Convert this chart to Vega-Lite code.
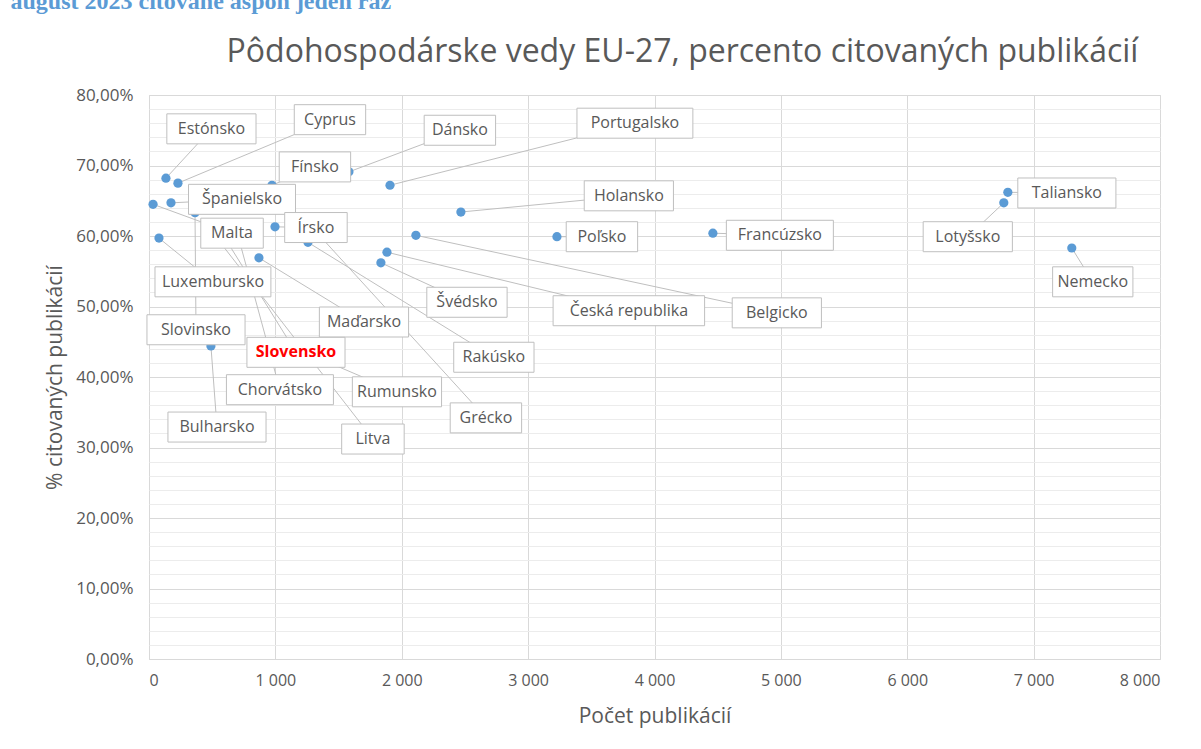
{
  "$schema": "https://vega.github.io/schema/vega-lite/v6.json",
  "width": 1011,
  "height": 564,
  "autosize": {"type": "none"},
  "padding": {"left": 149, "top": 95, "right": 41, "bottom": 90},
  "background": "white",
  "config": {
    "locale": {"number": {"decimal": ",", "thousands": " ", "grouping": [3], "currency": ["", " €"]}},
    "view": {"stroke": "#d9d9d9"}
  },
  "data": {
    "values": [
      {"country": "Estónsko", "pubs": 134, "pct": 0.682, "lx": 494, "ly": 0.752},
      {"country": "Cyprus", "pubs": 229, "pct": 0.675, "lx": 1432, "ly": 0.765},
      {"country": "Malta", "pubs": 32, "pct": 0.645, "lx": 657, "ly": 0.604},
      {"country": "Španielsko", "pubs": 174, "pct": 0.647, "lx": 736, "ly": 0.652},
      {"country": "Slovinsko", "pubs": 364, "pct": 0.633, "lx": 372, "ly": 0.467},
      {"country": "Luxembursko", "pubs": 79, "pct": 0.597, "lx": 506, "ly": 0.535},
      {"country": "Fínsko", "pubs": 973, "pct": 0.672, "lx": 1313, "ly": 0.698},
      {"country": "Dánsko", "pubs": 1582, "pct": 0.691, "lx": 2460, "ly": 0.750},
      {"country": "Portugalsko", "pubs": 1907, "pct": 0.672, "lx": 3845, "ly": 0.760},
      {"country": "Holansko", "pubs": 2468, "pct": 0.634, "lx": 3797, "ly": 0.657},
      {"country": "Belgicko", "pubs": 2112, "pct": 0.601, "lx": 4968, "ly": 0.491},
      {"country": "Česká republika", "pubs": 1883, "pct": 0.577, "lx": 3797, "ly": 0.494},
      {"country": "Švédsko", "pubs": 1835, "pct": 0.562, "lx": 2516, "ly": 0.506},
      {"country": "Poľsko", "pubs": 3228, "pct": 0.599, "lx": 3584, "ly": 0.599},
      {"country": "Francúzsko", "pubs": 4462, "pct": 0.604, "lx": 4992, "ly": 0.601},
      {"country": "Taliansko", "pubs": 6796, "pct": 0.662, "lx": 7263, "ly": 0.661},
      {"country": "Lotyšsko", "pubs": 6764, "pct": 0.647, "lx": 6479, "ly": 0.599},
      {"country": "Nemecko", "pubs": 7302, "pct": 0.583, "lx": 7468, "ly": 0.535},
      {"country": "Írsko", "pubs": 997, "pct": 0.613, "lx": 1321, "ly": 0.612},
      {"country": "Rakúsko", "pubs": 1258, "pct": 0.591, "lx": 2729, "ly": 0.428},
      {"country": "Grécko", "pubs": 1353, "pct": 0.600, "lx": 2666, "ly": 0.342},
      {"country": "Maďarsko", "pubs": 870, "pct": 0.569, "lx": 1701, "ly": 0.478},
      {"country": "Bulharsko", "pubs": 490, "pct": 0.444, "lx": 538, "ly": 0.329},
      {"country": "Slovensko", "pubs": 601, "pct": 0.597, "lx": 1163, "ly": 0.435},
      {"country": "Chorvátsko", "pubs": 720, "pct": 0.590, "lx": 1036, "ly": 0.382},
      {"country": "Litva", "pubs": 498, "pct": 0.606, "lx": 1772, "ly": 0.312},
      {"country": "Rumunsko", "pubs": 1195, "pct": 0.438, "lx": 1962, "ly": 0.379}
    ]
  },
  "layer": [
    {
      "mark": {"type": "rule", "color": "#bfbfbf", "strokeWidth": 1},
      "encoding": {
        "x": {
          "field": "pubs", "type": "quantitative",
          "scale": {"domain": [0, 8000], "nice": false},
          "axis": {
            "title": "Počet publikácií",
            "values": [0, 1000, 2000, 3000, 4000, 5000, 6000, 7000, 8000],
            "tickCount": 20,
            "format": ",.0f",
            "ticks": false, "domain": false,
            "gridColor": "#d9d9d9",
            "labelPadding": 13, "labelFontSize": 16, "labelColor": "#595959", "labelFont": "Open Sans",
            "titleFont": "Open Sans", "titleFontSize": 21, "titleFontWeight": "normal", "titleColor": "#595959", "titlePadding": 17
          }
        },
        "y": {
          "field": "pct", "type": "quantitative", "title": "% citovaných publikácií",
          "scale": {"domain": [0, 0.8], "nice": false, "zero": true},
          "axis": {
            "values": [0, 0.02, 0.04, 0.06, 0.08, 0.1, 0.12, 0.14, 0.16, 0.18, 0.2, 0.22, 0.24, 0.26, 0.28, 0.3, 0.32, 0.34, 0.36, 0.38, 0.4, 0.42, 0.44, 0.46, 0.48, 0.5, 0.52, 0.54, 0.56, 0.58, 0.6, 0.62, 0.64, 0.66, 0.68, 0.7, 0.72, 0.74, 0.76, 0.78, 0.8],
            "tickCount": 100,
            "format": ".2%",
            "labelExpr": "round(datum.value*100) % 10 == 0 ? datum.label : ''",
            "labelOverlap": false,
            "gridColor": {"condition": {"test": "round(datum.value*100) % 10 == 0", "value": "#d9d9d9"}, "value": "#ececec"},
            "ticks": false, "domain": false,
            "labelPadding": 16, "labelFontSize": 17, "labelColor": "#595959", "labelFont": "Open Sans",
            "titleFont": "Open Sans", "titleFontSize": 21, "titleFontWeight": "normal", "titleColor": "#595959", "titlePadding": 10
          }
        },
        "x2": {"field": "lx"},
        "y2": {"field": "ly"}
      }
    },
    {
      "mark": {"type": "circle", "size": 85, "color": "#5B9BD5", "opacity": 1},
      "encoding": {
        "x": {"field": "pubs", "type": "quantitative", "scale": {"domain": [0, 8000], "nice": false}, "axis": null},
        "y": {"field": "pct", "type": "quantitative", "title": "% citovaných publikácií", "scale": {"domain": [0, 0.8], "nice": false}}
      }
    },
    {
      "mark": {"type": "rect", "fill": "white", "stroke": "#bfbfbf", "strokeWidth": 1, "height": 30, "width": {"expr": "length(datum.country) * 8.9 + 18"}},
      "encoding": {
        "x": {
          "field": "lx", "type": "quantitative", "scale": {"domain": [0, 8000], "nice": false},
          "axis": {
            "orient": "top", "title": "Pôdohospodárske vedy EU-27, percento citovaných publikácií",
            "labels": false, "ticks": false, "domain": false, "grid": false,
            "titleX": 533, "titleY": -34, "titleAlign": "center", "titleBaseline": "alphabetic", "titleAngle": 0,
            "titleFont": "Open Sans", "titleFontSize": 32, "titleFontWeight": "normal", "titleColor": "#595959"
          }
        },
        "y": {"field": "ly", "type": "quantitative", "title": "% citovaných publikácií", "scale": {"domain": [0, 0.8], "nice": false}}
      }
    },
    {
      "mark": {"type": "text", "font": "Open Sans", "fontSize": 16, "align": "center", "baseline": "middle", "fontWeight": {"expr": "datum.country == 'Slovensko' ? 'bold' : 'normal'"}},
      "encoding": {
        "x": {
          "field": "lx", "type": "quantitative", "scale": {"domain": [0, 8000], "nice": false},
          "axis": {
            "orient": "top", "title": "august 2023 citované aspoň jeden raz",
            "labels": false, "ticks": false, "domain": false, "grid": false,
            "titleX": -139, "titleY": -87, "titleAlign": "left", "titleBaseline": "alphabetic", "titleAngle": 0,
            "titleFont": "Liberation Serif", "titleFontSize": 24, "titleFontWeight": "bold", "titleColor": "#5B9BD5"
          }
        },
        "y": {"field": "ly", "type": "quantitative", "title": "% citovaných publikácií", "scale": {"domain": [0, 0.8], "nice": false}},
        "text": {"field": "country"},
        "color": {"condition": {"test": "datum.country == 'Slovensko'", "value": "#ff0000"}, "value": "#595959"}
      }
    }
  ],
  "resolve": {"axis": {"x": "independent"}}
}
